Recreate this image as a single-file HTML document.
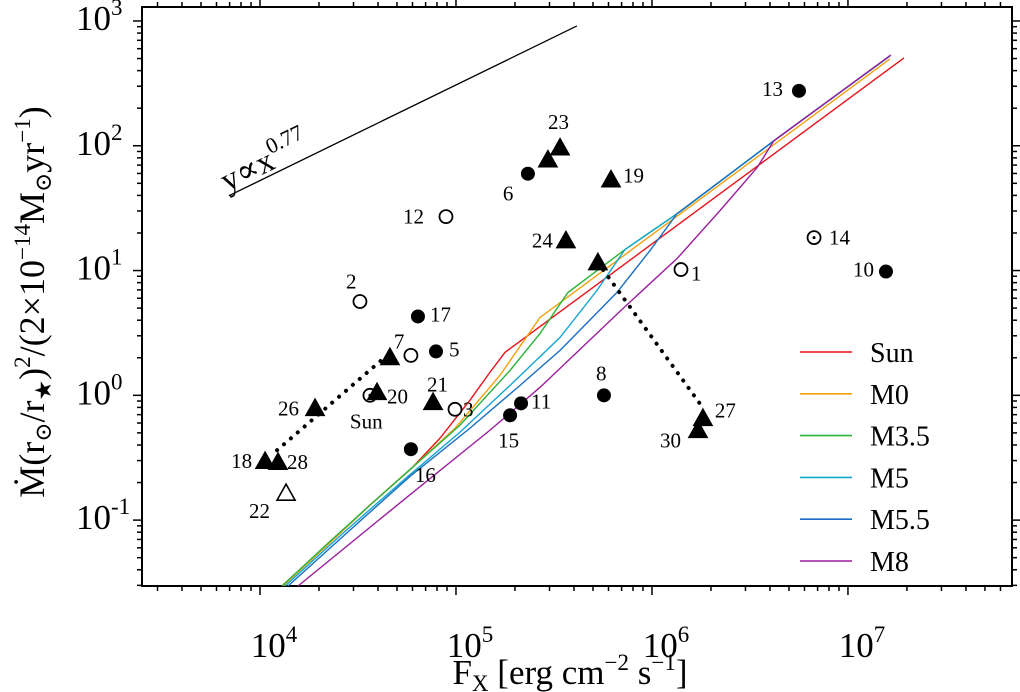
<!DOCTYPE html>
<html><head><meta charset="utf-8">
<style>
html,body{margin:0;padding:0;background:#fff;}
svg{display:block;font-family:"Liberation Serif","DejaVu Serif",serif;}
</style></head>
<body>
<svg id="chart" width="1020" height="692" viewBox="0 0 1020 692" xmlns="http://www.w3.org/2000/svg">
<g id="plot"></g>
<text x="570" y="684" font-size="35" text-anchor="middle">F<tspan font-size="23" dy="7">X</tspan><tspan dy="-7">  [erg cm</tspan><tspan font-size="23" dy="-14">−2</tspan><tspan dy="14"> s</tspan><tspan font-size="23" dy="-14">−1</tspan><tspan dy="14">]</tspan></text>
<text transform="translate(44,302) rotate(-90)" font-size="36" text-anchor="middle">Ṁ(r<tspan font-size="23" dy="7">⊙</tspan><tspan dy="-7">/r</tspan><tspan font-size="23" dy="7">★</tspan><tspan dy="-7">)</tspan><tspan font-size="23" dy="-14">2</tspan><tspan dy="14">/(2×10</tspan><tspan font-size="23" dy="-14">−14</tspan><tspan dy="14">M</tspan><tspan font-size="23" dy="7">⊙</tspan><tspan dy="-7">yr</tspan><tspan font-size="23" dy="-14">−1</tspan><tspan dy="14">)</tspan></text>
</svg>
<script>
// axis ranges (log10)
const xLogMin = 3.398, xLogMax = 7.837;
const yLogMin = -1.528, yLogMax = 3.112;
const plotL = 142, plotR = 1012, plotT = 7, plotB = 586;

// data: log10(Fx), log10(Mdot-norm)
const filledLabels = ['5','6','8','10','11','13','15','16','17'];
const filledLogFx  = [4.898,5.367,5.755,7.194,5.332,6.750,5.276,4.770,4.806];
const filledLogM   = [0.352,1.776,0.0,0.992,-0.064,2.44,-0.16,-0.432,0.632];
const openLabels = ['1','2','3','12',''];
const openLogFx  = [6.148,4.510,4.995,4.949,4.770];
const openLogM   = [1.008,0.752,-0.112,1.432,0.32];
const triLabels = ['7','18','19','20','21','23','','24','','26','27','28','30'];
const triLogFx  = [4.663,4.026,5.791,4.597,4.883,5.531,5.469,5.561,5.724,4.281,6.260,4.092,6.235];
const triLogM   = [0.304,-0.528,1.728,0.024,-0.056,1.984,1.888,1.24,1.064,-0.104,-0.184,-0.536,-0.28];
const openTriLabels = ['22'];
const openTriLogFx = [4.133];
const openTriLogM = [-0.784];
const sunLabels = ['Sun','14'];
const sunLogFx = [4.561,6.827];
const sunLogM = [0.0,1.264];
// dotted connections (log values)
const dot1Fx = [4.087,4.648]; const dot1M = [-0.44,0.32];
const dot2Fx = [5.724,6.260]; const dot2M = [1.064,-0.10];
// power law y ∝ x^0.77
const plFx = [3.842,5.617]; const plM = [1.60,2.96];

// model curves
const seriesNames = ['Sun','M0','M3.5','M5','M5.5','M8'];
const seriesColors = ['#e8141c','#f5a10f','#2db33a','#13a6cf','#1a6fc4','#9b1f9e'];
const sunFx=[4.112,4.357,4.561,4.776,4.918,5.071,5.173,5.250,7.286];
const sunM =[-1.528,-1.18,-0.88,-0.58,-0.344,-0.04,0.184,0.344,2.704];
const m0Fx=[4.117,4.357,4.561,4.776,4.995,5.224,5.429,7.214];
const m0M =[-1.528,-1.18,-0.88,-0.58,-0.264,0.16,0.624,2.696];
const m35Fx=[4.112,4.357,4.561,4.776,5.020,5.276,5.429,5.571,5.862,6.143,6.622,7.214];
const m35M =[-1.528,-1.17,-0.88,-0.58,-0.24,0.2,0.496,0.824,1.168,1.472,2.04,2.72];
const m5Fx=[4.128,4.434,4.740,5.020,5.276,5.531,5.719,5.862,6.143,6.622,7.214];
const m5M =[-1.528,-1.09,-0.67,-0.296,0.08,0.464,0.84,1.168,1.472,2.04,2.72];
const m55Fx=[4.143,4.459,4.765,5.071,5.327,5.531,5.821,5.990,6.128,6.622,7.214];
const m55M =[-1.528,-1.08,-0.65,-0.264,0.08,0.36,0.824,1.16,1.456,2.04,2.72];
const m8Fx=[4.194,4.750,5.173,5.429,5.531,5.852,6.128,6.347,6.536,6.622,7.219];
const m8M =[-1.528,-0.816,-0.28,0.064,0.216,0.696,1.096,1.48,1.824,2.04,2.728];
const seriesFx=[sunFx,m0Fx,m35Fx,m5Fx,m55Fx,m8Fx];
const seriesM=[sunM,m0M,m35M,m5M,m55M,m8M];

const xTickExps=[4,5,6,7];
const yTickExps=[-1,0,1,2,3];

const NS='http://www.w3.org/2000/svg';
const g=document.getElementById('plot');
const X=v=>plotL+(v-xLogMin)/(xLogMax-xLogMin)*(plotR-plotL);
const Y=v=>plotB-(v-yLogMin)/(yLogMax-yLogMin)*(plotB-plotT);
function mk(tag,attrs,parent){const e=document.createElementNS(NS,tag);for(const k in attrs)e.setAttribute(k,attrs[k]);(parent||g).appendChild(e);return e;}

// frame
const frame=mk('rect',{x:plotL,y:plotT,width:plotR-plotL,height:plotB-plotT,fill:'none',stroke:'#000','stroke-width':2});



// ticks (outward)
const tg=mk('g',{stroke:'#000','stroke-width':1.5});


for(let d=3;d<=7;d++){for(let m=1;m<10;m++){const v=d+Math.log10(m);if(v<xLogMin||v>xLogMax)continue;const L=m===1?9:5;const x=X(v);
 mk('line',{x1:x,x2:x,y1:plotB,y2:plotB+L},tg);mk('line',{x1:x,x2:x,y1:plotT,y2:plotT-L},tg);}}
for(let d=-2;d<=3;d++){for(let m=1;m<10;m++){const v=d+Math.log10(m);if(v<yLogMin||v>yLogMax)continue;const L=m===1?9:5;const y=Y(v);
 mk('line',{x1:plotL,x2:plotL-L,y1:y,y2:y},tg);mk('line',{x1:plotR,x2:plotR+L,y1:y,y2:y},tg);}}
xTickExps.forEach(e=>{const t=mk('text',{x:X(e)+14,y:657,'font-size':35,'text-anchor':'middle'});
 
 
 t.innerHTML='10<tspan font-size="23" dy="-15">'+e+'</tspan>';});
yTickExps.forEach(e=>{const t=mk('text',{x:76,y:Y(e)+9,'font-size':35});
 
 
 t.innerHTML='10<tspan font-size="23" dy="-15">'+(e<0?'-'+(-e):e)+'</tspan>';});

// clip
const defs=mk('defs',{});const cp=mk('clipPath',{id:'clip'},defs);mk('rect',{x:plotL,y:plotT,width:plotR-plotL,height:plotB-plotT},cp);

// power law
const pl=mk('line',{x1:X(plFx[0]),y1:Y(plM[0]),x2:X(plFx[1]),y2:Y(plM[1]),stroke:'#000','stroke-width':1.3});


const plt=mk('text',{transform:'translate(227,192) rotate(-26)','font-size':33});


plt.innerHTML='y∝x<tspan font-size="22" dy="-15">0.77</tspan>';

// curves
seriesFx.forEach((fx,i)=>{const p=mk('polyline',{points:fx.map((v,j)=>X(v)+','+Y(seriesM[i][j])).join(' '),fill:'none',stroke:seriesColors[i],'stroke-width':1.4,'clip-path':'url(#clip)'});
 
 });

// dotted lines
[[dot1Fx,dot1M],[dot2Fx,dot2M]].forEach((d,i)=>{const l=mk('line',{x1:X(d[0][0]),y1:Y(d[1][0]),x2:X(d[0][1]),y2:Y(d[1][1]),stroke:'#000','stroke-width':4,'stroke-dasharray':'0.1 9','stroke-linecap':'round'});
 
 });

// label offsets
const labOff={'1':[10,4],'2':[-14,-20],'3':[8,0],'5':[13,-2],'6':[-25,20],'8':[-8,-22],'10':[-33,-2],'11':[10,-2],'12':[-43,0],'13':[-37,-2],'14':[15,0],'15':[-12,25],'16':[4,26],'17':[12,-2],
'7':[4,-16],'18':[-34,0],'19':[12,-4],'20':[10,4],'21':[-6,-18],'23':[-12,-26],'24':[-34,0],'26':[-37,0],'27':[12,-8],'28':[9,0],'30':[-38,10],'22':[-37,18],'Sun':[-20,26]};
function label(txt,x,y){if(!txt)return;const o=labOff[txt]||[8,0];const t=mk('text',{x:x+o[0],y:y+o[1]+7,'font-size':21,'font-family':'"Liberation Serif",serif'});t.textContent=txt;
 
 }

filledLogFx.forEach((v,i)=>{const x=X(v),y=Y(filledLogM[i]);const c=mk('circle',{cx:x,cy:y,r:7,fill:'#000'});
 
 
 label(filledLabels[i],x,y);});
openLogFx.forEach((v,i)=>{const x=X(v),y=Y(openLogM[i]);const c=mk('circle',{cx:x,cy:y,r:6.5,fill:'#fff',stroke:'#000','stroke-width':1.8});
 
 
 label(openLabels[i],x,y);});
sunLogFx.forEach((v,i)=>{const x=X(v),y=Y(sunLogM[i]);const c=mk('circle',{cx:x,cy:y,r:6.5,fill:'#fff',stroke:'#000','stroke-width':1.8});
 
 
 const d=mk('circle',{cx:x,cy:y,r:1.5,fill:'#000'});
 
 
 label(sunLabels[i],x,y);});
function tri(x,y,fill){return mk('polygon',{points:`${x},${y-9} ${x-9},${y+7} ${x+9},${y+7}`,fill:fill?'#000':'#fff',stroke:'#000','stroke-width':1.6});}
triLogFx.forEach((v,i)=>{const x=X(v),y=Y(triLogM[i]);const t=tri(x,y,true);
 
 
 label(triLabels[i],x,y);});
openTriLogFx.forEach((v,i)=>{const x=X(v),y=Y(openTriLogM[i]);const t=tri(x,y,false);
 
 
 label(openTriLabels[i],x,y);});

// legend
seriesNames.forEach((n,i)=>{const y=352+i*41.8;
 const l=mk('line',{x1:800,x2:852,y1:y,y2:y,stroke:seriesColors[i],'stroke-width':1.6});
 
 
 const t=mk('text',{x:870,y:y+10,'font-size':28});t.textContent=n;
 
 });
</script>
</body></html>
